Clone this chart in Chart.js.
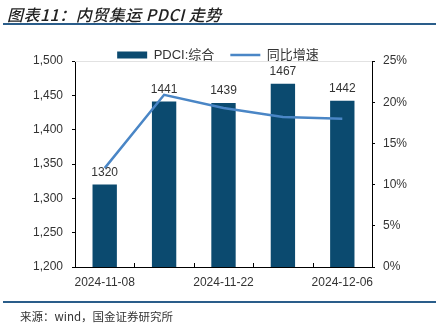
<!DOCTYPE html>
<html>
<head>
<meta charset="utf-8">
<script src="https://cdn.jsdelivr.net/npm/chart.js@4.4.1/dist/chart.umd.min.js"></script>
<style>
html, body { margin: 0; padding: 0; background: #fff; }
#wrap { position: relative; width: 436px; height: 323px; overflow: hidden; }
#chart { position: absolute; left: 0; top: 0; }
.title { position: absolute; left: 7px; top: 6px; font: italic 500 16px 'Noto Sans CJK SC'; letter-spacing: 0.5px; line-height: 16px; color: #222; white-space: nowrap; }
.rule { position: absolute; left: 3px; right: 0; height: 2px; background: #2a5d8a; }
.source { position: absolute; left: 20px; top: 308px; font: 11.5px 'Noto Sans CJK SC'; line-height: 16px; color: #333; white-space: nowrap; }
</style>
</head>
<body>
<div id="wrap">
  <canvas id="chart" width="436" height="323"></canvas>
  <div class="title">图表11：内贸集运 PDCI 走势</div>
  <div class="rule" style="top:23px"></div>
  <div class="rule" style="top:301px"></div>
  <div class="source">来源：wind，国金证券研究所</div>
</div>
<script>
const dates = ['2024-11-08', '2024-11-15', '2024-11-22', '2024-11-29', '2024-12-06'];
const pdci = [1320, 1441, 1439, 1467, 1442];
const yoy = [12.0, 20.9, 19.3, 18.2, 18.0];
const seriesNames = ['PDCI:综合', '同比增速'];

const BAR = '#0b4a6f';
const LINE = '#4a86c6';
const TXT = '#333';

Chart.defaults.font.family = "'Liberation Sans', Arial, 'Noto Sans CJK SC', sans-serif";
Chart.defaults.font.size = 12;
Chart.defaults.color = TXT;

// value labels, light top border, small inner ticks on the date axis
const extras = {
    id: 'extras',
    afterDatasetsDraw(chart) {
        const { ctx, chartArea: a, scales: { x } } = chart;
        const meta = chart.getDatasetMeta(0);
        ctx.save();
        ctx.font = "12px 'Liberation Sans', Arial, sans-serif";
        ctx.fillStyle = TXT;
        ctx.textAlign = 'center';
        ctx.textBaseline = 'middle';
        meta.data.forEach((bar, i) => ctx.fillText(pdci[i], bar.x, bar.y - 12));

        ctx.strokeStyle = '#e2e2e2';
        ctx.lineWidth = 1;
        ctx.beginPath();
        ctx.moveTo(a.left, a.top + 0.5);
        ctx.lineTo(a.right, a.top + 0.5);
        ctx.stroke();

        ctx.strokeStyle = '#000';
        ctx.beginPath();
        for (let i = 1; i < dates.length; i++) {
            const px = Math.round((x.getPixelForValue(i - 1) + x.getPixelForValue(i)) / 2) + 0.5;
            ctx.moveTo(px, a.bottom);
            ctx.lineTo(px, a.bottom - 4);
        }
        ctx.stroke();
        ctx.restore();
    }
};

new Chart(document.getElementById('chart').getContext('2d'), {
    data: {
        labels: dates,
        datasets: [{
            type: 'bar',
            label: seriesNames[0],
            data: pdci,
            yAxisID: 'y',
            backgroundColor: BAR,
            borderWidth: 0,
            categoryPercentage: 0.41,
            barPercentage: 1,
            pointStyle: 'rect',
            order: 0
        }, {
            type: 'line',
            label: seriesNames[1],
            data: yoy,
            yAxisID: 'y1',
            borderColor: LINE,
            backgroundColor: LINE,
            borderWidth: 2.5,
            pointRadius: 0,
            pointBorderWidth: 2.5,
            pointStyle: 'line',
            tension: 0,
            order: -1
        }]
    },
    options: {
        responsive: false,
        animation: false,
        layout: { padding: { top: 32.5, left: 0, right: 0, bottom: 0 } },
        plugins: {
            tooltip: { enabled: false },
            legend: {
                position: 'top',
                maxHeight: 28.5,
                labels: {
                    usePointStyle: true,
                    pointStyleWidth: 30,
                    boxHeight: 7,
                    padding: 16,
                    color: TXT,
                    font: { size: 13 },
                    sort: (a, b) => a.datasetIndex - b.datasetIndex
                }
            }
        },
        scales: {
            x: {
                grid: { display: true, drawOnChartArea: false, drawTicks: false },
                border: { color: '#000' },
                ticks: { autoSkip: false, maxRotation: 0, padding: 8, color: TXT, callback: (v, i) => i % 2 === 0 ? dates[i] : '' },
                afterFit(s) { s.height = 56; }
            },
            y: {
                position: 'left',
                min: 1200,
                max: 1500,
                ticks: { stepSize: 50, padding: 9, color: TXT, callback: v => v.toLocaleString('en-US') },
                grid: { drawOnChartArea: false, tickLength: 3, color: '#000' },
                border: { color: '#000' },
                afterFit(s) { s.width = 75; }
            },
            y1: {
                position: 'right',
                min: 0,
                max: 25,
                ticks: { stepSize: 5, padding: 8, color: TXT, callback: v => v + '%' },
                grid: { drawOnChartArea: false, tickLength: 3, color: '#000' },
                border: { color: '#000' },
                afterFit(s) { s.width = 64; }
            }
        }
    },
    plugins: [extras]
});
</script>
</body>
</html>
